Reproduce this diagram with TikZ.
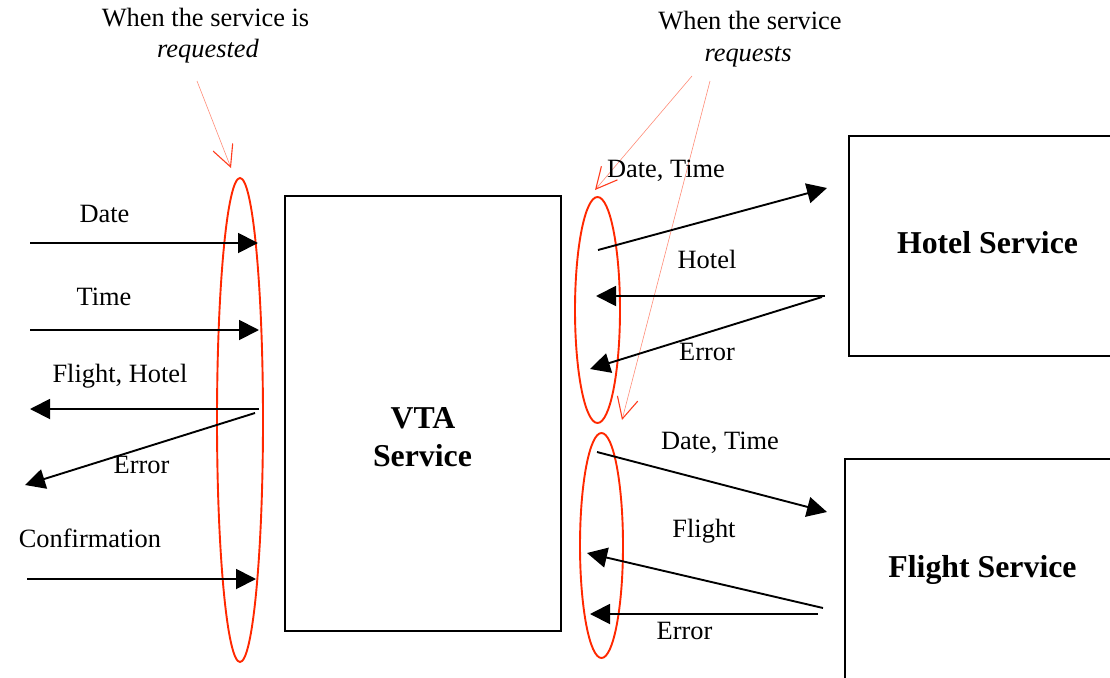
\documentclass[tikz,border=0pt]{standalone}
\usepackage{fontspec}
\setmainfont{Liberation Serif}
\usetikzlibrary{arrows.meta,shapes.geometric}

\definecolor{ringred}{RGB}{255,40,0}
\definecolor{calloutred}{RGB}{255,140,120}
\definecolor{calloutheadred}{RGB}{255,60,30}

\tikzset{
  lbl/.style={anchor=base, inner sep=0pt, font=\fontsize{26.4}{30}\selectfont},
  italbl/.style={lbl, font=\fontsize{26.4}{30}\selectfont\itshape},
  boldlbl/.style={anchor=base, inner sep=0pt, font=\fontsize{31.8}{36}\selectfont\bfseries},
  box/.style={draw, line width=1.6pt, rectangle, inner sep=0pt},
  ring/.style={draw=ringred, line width=1.9pt, ellipse, inner sep=0pt},
  msg/.style={line width=1.9pt, -{Triangle[length=20pt, width=20pt]}},
  callout/.style={draw=calloutred, line width=0.6pt,
    -{Straight Barb[length=21pt, width=21pt, line width=1.1pt, color=calloutheadred]}}
}

\begin{document}
\begin{tikzpicture}[x=1pt, y=-1pt]
  \useasboundingbox (0,0) rectangle (1110,677);

  % service boxes
  \node[box, minimum width=276pt, minimum height=434.7pt] (vta) at (423,413.35) {};
  \node[box, minimum width=271pt, minimum height=220pt] (hotel) at (984.5,246) {};
  \node[box, minimum width=275pt, minimum height=241pt] (flight) at (982.5,579.5) {};

  \node[boldlbl] (vtaA) at (423,428) {VTA};
  \node[boldlbl] (vtaB) at (422.5,466) {Service};
  \node[boldlbl] (hotelT) at (987.5,253) {Hotel Service};
  \node[boldlbl] (flightT) at (982.5,577) {Flight Service};

  % interface rings
  \node[ring, minimum width=46pt, minimum height=484pt] (ringL) at (240,420) {};
  \node[ring, minimum width=45pt, minimum height=226pt] (ringH) at (597.5,310) {};
  \node[ring, minimum width=43pt, minimum height=225pt] (ringF) at (601.5,545.5) {};

  % annotations
  \node[lbl] (noteL1) at (205.5,27) {When the service is};
  \node[italbl] (noteL2) at (208,58) {requested};
  \node[lbl] (noteR1) at (750,30) {When the service};
  \node[italbl] (noteR2) at (748,62) {requests};

  \coordinate (cLs) at (197,81);
  \coordinate (cLe) at (231,168);
  \coordinate (cR1s) at (692,76);
  \coordinate (cR1e) at (595,190);
  \coordinate (cR2s) at (710,81);
  \coordinate (cR2e) at (622,420);
  \draw[callout] (cLs) -- (cLe);
  \draw[callout] (cR1s) -- (cR1e);
  \draw[callout] (cR2s) -- (cR2e);

  % client-side messages
  \coordinate (dateS) at (30,243);   \coordinate (dateE) at (258,243);
  \coordinate (timeS) at (30,330);   \coordinate (timeE) at (259,330);
  \coordinate (fhS) at (259,409);    \coordinate (fhE) at (30,409);
  \coordinate (errS) at (255,413);   \coordinate (errE) at (25,485);
  \coordinate (confS) at (27,579);   \coordinate (confE) at (256,579);
  \draw[msg] (dateS) -- (dateE);
  \draw[msg] (timeS) -- (timeE);
  \draw[msg] (fhS) -- (fhE);
  \draw[msg] (errS) -- (errE);
  \draw[msg] (confS) -- (confE);

  \node[lbl] (tDate) at (104.5,222) {Date};
  \node[lbl] (tTime) at (104,305) {Time};
  \node[lbl] (tFH) at (120,382) {Flight, Hotel};
  \node[lbl] (tErr) at (141.5,473) {Error};
  \node[lbl] (tConf) at (90,547) {Confirmation};

  % hotel exchange
  \coordinate (hReqS) at (598,250);  \coordinate (hReqE) at (827,188);
  \coordinate (hResS) at (825,296);  \coordinate (hResE) at (596,296);
  \coordinate (hErrS) at (822,297);  \coordinate (hErrE) at (590,369);
  \draw[msg] (hReqS) -- (hReqE);
  \draw[msg] (hResS) -- (hResE);
  \draw[msg] (hErrS) -- (hErrE);

  \node[lbl] (tHDT) at (666,177) {Date, Time};
  \node[lbl] (tHotel) at (707,268) {Hotel};
  \node[lbl] (tHErr) at (707,360) {Error};

  % flight exchange
  \coordinate (fReqS) at (597,452);  \coordinate (fReqE) at (827,512);
  \coordinate (fResS) at (823,608);  \coordinate (fResE) at (587,553);
  \coordinate (fErrS) at (818,614);  \coordinate (fErrE) at (590,614);
  \draw[msg] (fReqS) -- (fReqE);
  \draw[msg] (fResS) -- (fResE);
  \draw[msg] (fErrS) -- (fErrE);

  \node[lbl] (tFDT) at (720,449) {Date, Time};
  \node[lbl] (tFlight) at (704,537) {Flight};
  \node[lbl] (tFErr) at (684.5,639) {Error};
\end{tikzpicture}
\end{document}
